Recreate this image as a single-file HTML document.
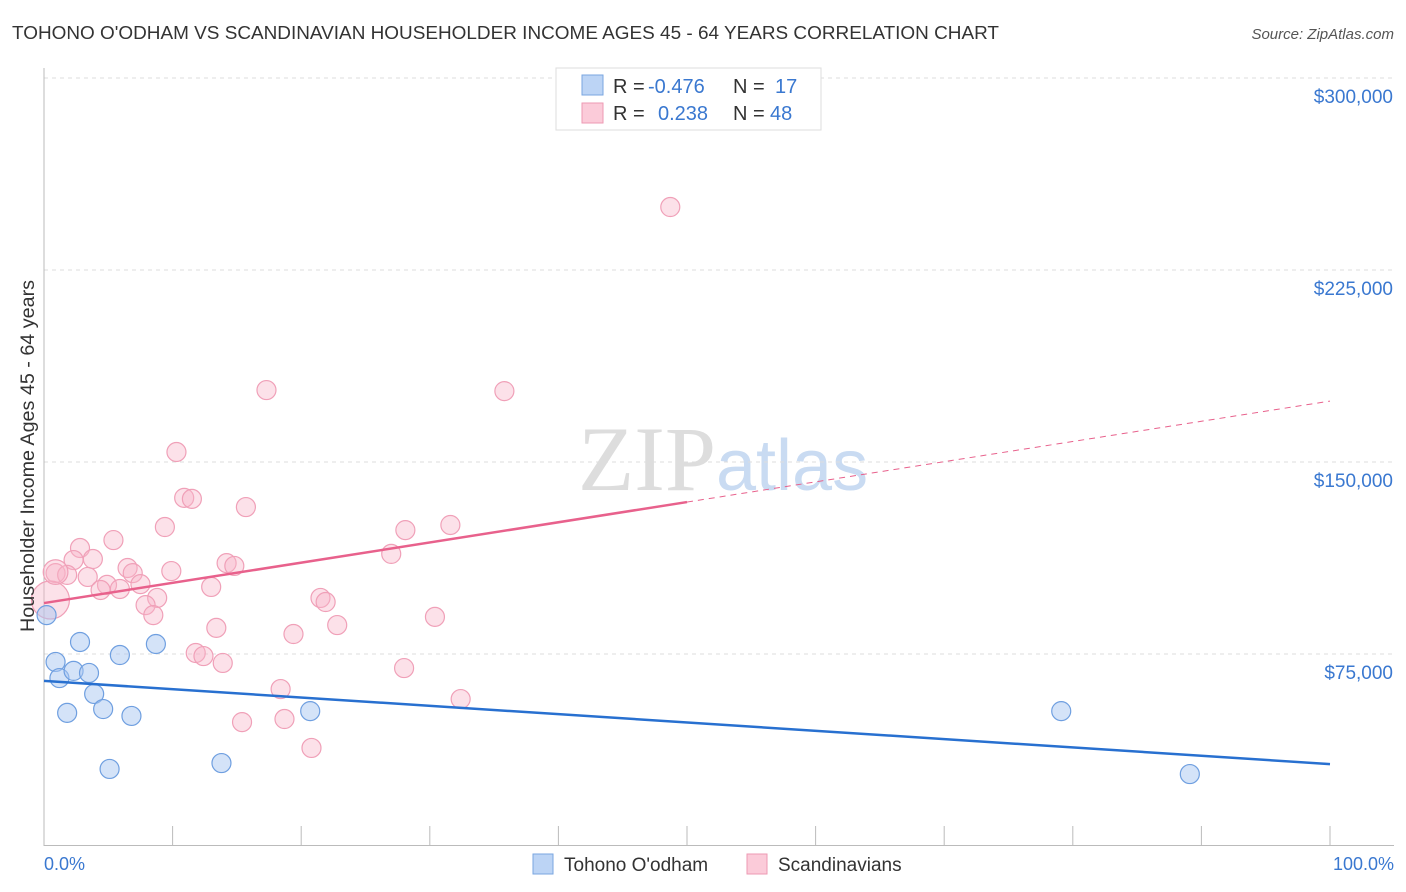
<!DOCTYPE html>
<html><head><meta charset="utf-8"><style>
body{margin:0;background:#fff;font-family:"Liberation Sans",sans-serif;}
svg{display:block}
</style></head><body>
<svg id="c" width="1406" height="892">
<text x="12" y="39" font-size="18" fill="#333" textLength="987" lengthAdjust="spacingAndGlyphs">TOHONO O'ODHAM VS SCANDINAVIAN HOUSEHOLDER INCOME AGES 45 - 64 YEARS CORRELATION CHART</text>
<text x="1394" y="39" font-size="15" fill="#555" font-style="italic" text-anchor="end">Source: ZipAtlas.com</text>
<text x="716" y="490" font-size="92" fill="#ddd" text-anchor="end" font-family="Liberation Serif,serif">ZIP</text>
<text x="716" y="490" font-size="72" fill="#c9dbf2">atlas</text>
<g id="grid"></g><g id="marks"></g>
<text transform="translate(34,456) rotate(-90)" font-size="19" fill="#333" text-anchor="middle" textLength="352" lengthAdjust="spacingAndGlyphs">Householder Income Ages 45 - 64 years</text>
<text x="44" y="870" font-size="18" fill="#3a78d0">0.0%</text>
<text x="1394" y="870" font-size="18" fill="#3a78d0" text-anchor="end">100.0%</text>
<g>
<rect x="533" y="854" width="20" height="20" fill="#bcd4f5" stroke="#7aa6e0"/>
<text x="564" y="871" font-size="19" fill="#333">Tohono O'odham</text>
<rect x="747" y="854" width="20" height="20" fill="#fbcbd9" stroke="#ee9ab3"/>
<text x="778" y="871" font-size="19" fill="#333">Scandinavians</text>
</g>
<g>
<rect x="556" y="68" width="265" height="62" fill="#fff" stroke="#ddd"/>
<rect x="582" y="75" width="21" height="20" fill="#bcd4f5" stroke="#7aa6e0"/>
<rect x="582" y="103" width="21" height="20" fill="#fbcbd9" stroke="#ee9ab3"/>
<text x="613" y="93" font-size="20" fill="#333">R = <tspan fill="#3a78d0" x="648">-0.476</tspan><tspan x="733">N = </tspan><tspan fill="#3a78d0" x="775">17</tspan></text>
<text x="613" y="120" font-size="20" fill="#333">R = <tspan fill="#3a78d0" x="658">0.238</tspan><tspan x="733">N = </tspan><tspan fill="#3a78d0" x="770">48</tspan></text>
</g>
</svg>
<script>
const yTicks=[75000,150000,225000,300000];
const yTickLabels=["$75,000","$150,000","$225,000","$300,000"];
const blueX=[0.2,2.8,0.9,1.2,2.3,3.5,3.9,1.8,4.6,6.8,5.9,8.7,20.7,5.1,13.8,79.1,89.1];
const blueY=[90200,79700,71900,65600,68400,67600,59400,52000,53500,50800,74600,78900,52700,30100,32400,52700,28100];
const pinkX=[48.7,17.3,35.8,10.3,10.9,11.5,15.7,9.4,31.6,28.1,5.4,2.8,2.3,3.8,27.0,0.9,1.8,3.4,14.2,14.8,9.9,6.5,6.9,4.9,7.5,5.9,4.4,13.0,8.8,7.9,21.5,21.9,8.5,30.4,22.8,13.4,19.4,11.8,12.4,13.9,28.0,18.4,32.4,15.4,18.7,20.8,0.5,0.9];
const pinkY=[249600,178100,177700,153900,136000,135600,132400,124600,125400,123400,119500,116400,111700,112100,114100,106600,105900,105100,110500,109400,107400,108600,106600,102000,102300,100400,100000,101200,96900,94100,96900,95300,90200,89500,86300,85200,82800,75400,74200,71500,69500,61300,57400,48400,49600,38300,96100,107000];
const pinkSize=[1,1,1,1,1,1,1,1,1,1,1,1,1,1,1,1,1,1,1,1,1,1,1,1,1,1,1,1,1,1,1,1,1,1,1,1,1,1,1,1,1,1,1,1,1,1,2.0,1.3];
const blueLine=[64500,32000];
const pinkLine=[94900,173800];
const NS="http://www.w3.org/2000/svg";
const X=p=>44+p*12.86, Y=v=>78+(300000-v)/75000*192;
function mk(t,a,parent){const e=document.createElementNS(NS,t);for(const k in a)e.setAttribute(k,a[k]);document.getElementById(parent).appendChild(e);return e;}
yTicks.forEach((v,i)=>{
 const l=mk('line',{x1:44,x2:1394,y1:Y(v),y2:Y(v),stroke:'#ddd','stroke-dasharray':'4,4'},'grid');
 
 
 const t=mk('text',{x:1393,y:Y(v)+25,'font-size':19,fill:'#3a78d0','text-anchor':'end'},'grid');
 t.textContent=yTickLabels[i];
 
 
});
const ax=mk('line',{x1:44,x2:44,y1:68,y2:846,stroke:'#bbb'},'grid');


const bx=mk('line',{x1:44,x2:1394,y1:845.5,y2:845.5,stroke:'#bbb'},'grid');


for(let i=0;i<=10;i++){const t=mk('line',{x1:X(i*10),x2:X(i*10),y1:826,y2:846,stroke:'#bbb'},'grid');
 
 }
pinkX.forEach((x,i)=>{const c=mk('circle',{cx:X(x),cy:Y(pinkY[i]),r:9.5*pinkSize[i],fill:'rgba(248,180,200,0.4)',stroke:'#f0a0b8','stroke-width':1.2},'marks');
 
 });
blueX.forEach((x,i)=>{const c=mk('circle',{cx:X(x),cy:Y(blueY[i]),r:9.5,fill:'rgba(170,200,242,0.5)',stroke:'#6f9fe0','stroke-width':1.2},'marks');
 
 });
const pm=pinkLine[0]+(pinkLine[1]-pinkLine[0])*0.5;
let l1=mk('line',{x1:X(0),y1:Y(pinkLine[0]),x2:X(50),y2:Y(pm),stroke:'#e8618c','stroke-width':2.5},'marks');


let l2=mk('line',{x1:X(50),y1:Y(pm),x2:X(100),y2:Y(pinkLine[1]),stroke:'#e8618c','stroke-width':1,'stroke-dasharray':'6,5'},'marks');


let l3=mk('line',{x1:X(0),y1:Y(blueLine[0]),x2:X(100),y2:Y(blueLine[1]),stroke:'#2870d0','stroke-width':2.5},'marks');


</script>
</body></html>
